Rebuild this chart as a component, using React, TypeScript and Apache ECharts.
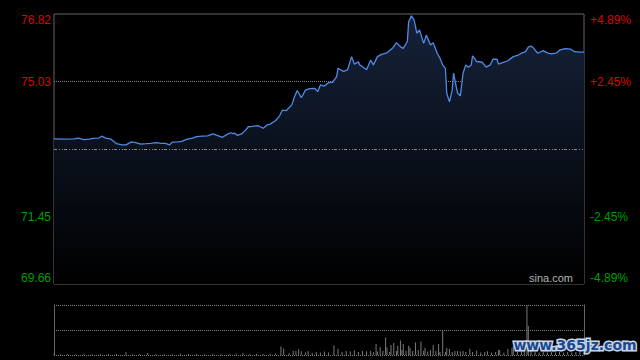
import React, { useEffect, useRef } from 'react';
import * as echarts from 'echarts';

const prevClose = 73.24;

// Intraday minutes (0..390) and prices
const minutes = [
  0, 7, 15, 18, 22, 26, 29, 33, 35, 38,
  42, 44, 46, 50, 53, 57, 60, 64, 68, 71,
  75, 79, 82, 85, 87, 91, 94, 98, 102, 105,
  109, 113, 117, 120, 124, 127, 130, 132, 133, 135,
  138, 141, 143, 146, 150, 154, 157, 159, 163, 166,
  168, 171, 175, 177, 179, 182, 185, 188, 192, 194,
  196, 199, 202, 205, 208, 209, 213, 216, 219, 221,
  224, 225, 227, 230, 233, 235, 238, 241, 245, 249,
  252, 255, 257, 260, 261, 263, 265, 267, 269, 272,
  274, 277, 279, 282, 284, 286, 288, 289, 291, 293,
  294, 296, 297, 299, 301, 303, 305, 307, 308, 311,
  315, 318, 321, 323, 326, 327, 330, 334, 338, 341,
  344, 347, 349, 351, 353, 356, 360, 363, 366, 370,
  372, 376, 380, 383, 387, 390,
];
const prices = [
  73.51, 73.50, 73.51, 73.53, 73.49, 73.50, 73.52, 73.53, 73.58, 73.53,
  73.50, 73.44, 73.38, 73.35, 73.35, 73.43, 73.41, 73.37, 73.38, 73.39,
  73.41, 73.39, 73.39, 73.35, 73.42, 73.43, 73.44, 73.50, 73.53, 73.57,
  73.58, 73.59, 73.64, 73.60, 73.55, 73.62, 73.67, 73.65, 73.66, 73.60,
  73.64, 73.74, 73.83, 73.84, 73.86, 73.79, 73.88, 73.90, 73.99, 74.12,
  74.27, 74.26, 74.41, 74.63, 74.79, 74.60, 74.80, 74.84, 74.85, 74.76,
  74.94, 74.91, 75.00, 75.01, 75.16, 75.38, 75.30, 75.34, 75.69, 75.49,
  75.55, 75.47, 75.42, 75.34, 75.60, 75.47, 75.69, 75.75, 75.79, 75.91,
  76.06, 75.95, 75.91, 76.09, 76.62, 76.77, 76.66, 76.31, 76.40, 76.04,
  76.26, 76.00, 76.06, 75.78, 75.65, 75.47, 75.38, 74.72, 74.49, 74.80,
  75.25, 74.89, 74.72, 74.65, 75.25, 75.47, 75.41, 75.47, 75.71, 75.56,
  75.54, 75.41, 75.47, 75.62, 75.62, 75.49, 75.53, 75.58, 75.69, 75.72,
  75.78, 75.82, 75.94, 75.97, 75.91, 75.78, 75.85, 75.79, 75.76, 75.79,
  75.86, 75.90, 75.89, 75.82, 75.81, 75.81,
];

// Volume bars (minute, relative volume)
const volMinutes = [
  0, 5, 10, 16, 22, 28, 34, 40, 46, 53,
  58, 63, 69, 75, 81, 87, 93, 99, 105, 111,
  117, 123, 129, 134, 139, 144, 149, 154, 159, 163,
  167, 169, 173, 176, 178, 180, 182, 185, 187, 190,
  193, 196, 199, 202, 206, 209, 212, 215, 218, 221,
  224, 227, 230, 233, 235, 237, 238, 240, 242, 244,
  245, 247, 248, 250, 252, 253, 255, 256, 257, 259,
  261, 262, 264, 266, 268, 270, 272, 273, 275, 277,
  279, 281, 283, 284, 286, 288, 289, 291, 293, 295,
  297, 299, 301, 303, 306, 308, 311, 314, 317, 319,
  322, 325, 327, 328, 331, 334, 337, 338, 341, 344,
  346, 348, 349, 351, 354, 357, 360, 363, 366, 369,
  372, 375, 378, 381, 384, 387, 390,
];
const volValues = [
  1.5, 0.8, 1, 0.7, 1.2, 0.8, 1, 0.9, 1.1, 2.7,
  0.8, 1, 2, 0.9, 1, 0.8, 1.2, 0.9, 1, 0.8,
  1.1, 0.9, 1, 1.2, 2, 0.9, 1.1, 1, 1.3, 1.5,
  8.5, 6.5, 2, 4, 4, 5.7, 3.7, 2.5, 4, 2,
  3, 2.5, 3.5, 2.5, 9.5, 6.2, 3, 4, 3.5, 4.5,
  3, 4, 3.5, 4, 3, 11, 3.5, 8, 4, 17.5,
  7.5, 3, 10, 12, 4, 9.3, 14.5, 5, 11, 4,
  9.3, 7, 4, 12.5, 5, 13.5, 4, 7, 3.5, 5,
  10, 4, 11, 3, 24.5, 3, 7, 6, 3, 4,
  4, 3.5, 4, 3, 6.3, 3, 4.3, 2.5, 3, 3.7,
  2.5, 3, 5, 4.7, 2.5, 6, 7.3, 9.3, 3, 3.5,
  4, 50, 29, 5, 3, 2.5, 3, 2.5, 3, 2.5,
  3, 2.5, 3, 2.5, 3, 3.5, 4,
];

// Tick labels (bottom to top)
const priceTicks = ['69.66', '71.45', '', '75.03', '76.82'];
const pctTicks = ['-4.89%', '-2.45%', '', '+2.45%', '+4.89%'];

const RED = '#dd0000';
const GREEN = '#009e00';

export default function App() {
  const ref = useRef<HTMLDivElement>(null);
  useEffect(() => {
    document.body.style.margin = '0';
    document.body.style.background = '#000';
    const chart = echarts.init(ref.current!, null, { renderer: 'svg' });
    const lineData = minutes.map((m, i) => [m, Math.round((prices[i] - prevClose) * 100)]);
    const volData = volMinutes.map((m, i) => [m, volValues[i]]);
    const labelColor = (v: any) => (Number(v) > 0 ? RED : GREEN);
    const option: any = {
      animation: false,
      backgroundColor: '#000',
      grid: [
        { left: 54, right: 56, top: 14, height: 270, show: true, borderColor: '#666', borderWidth: 1, backgroundColor: 'transparent' },
        { left: 54, right: 56, top: 305, height: 50 },
      ],
      xAxis: [
        { type: 'value', gridIndex: 0, min: 0, max: 390, show: false },
        { type: 'value', gridIndex: 1, min: 0, max: 390, show: false },
      ],
      yAxis: [
        {
          type: 'value', gridIndex: 0, min: -358, max: 358, interval: 179, position: 'left',
          axisLine: { show: false }, axisTick: { show: false },
          axisLabel: {
            formatter: (_v: any, i: number) => priceTicks[i] ?? '',
            color: labelColor, fontSize: 12, fontFamily: '"Liberation Sans", Arial, sans-serif', margin: 3,
            verticalAlignMinLabel: 'bottom', verticalAlignMaxLabel: 'top',
          },
          splitLine: { show: true, lineStyle: { color: ['transparent', '#808080', 'transparent', '#808080', 'transparent'], type: [1, 1], width: 1 } },
        },
        {
          type: 'value', gridIndex: 0, min: -358, max: 358, interval: 179, position: 'right',
          axisLine: { show: false }, axisTick: { show: false },
          axisLabel: {
            formatter: (_v: any, i: number) => pctTicks[i] ?? '',
            color: labelColor, fontSize: 12, fontFamily: '"Liberation Sans", Arial, sans-serif', margin: 6,
            verticalAlignMinLabel: 'bottom', verticalAlignMaxLabel: 'top',
          },
          splitLine: { show: false },
        },
        {
          type: 'value', gridIndex: 1, min: 0, max: 50, interval: 25, position: 'left',
          axisLine: { show: true, lineStyle: { color: '#666', width: 1 } }, axisTick: { show: false },
          axisLabel: { show: false },
          splitLine: { show: true, lineStyle: { color: '#808080', type: [1, 1], width: 1 } },
        },
        {
          type: 'value', gridIndex: 1, min: 0, max: 50, interval: 25, position: 'right',
          axisLine: { show: true, lineStyle: { color: '#666', width: 1 } }, axisTick: { show: false },
          axisLabel: { show: false }, splitLine: { show: false },
        },
      ],
      series: [
        {
          type: 'line', xAxisIndex: 0, yAxisIndex: 0, data: lineData,
          showSymbol: false, symbol: 'none',
          lineStyle: { color: '#4f8ae8', width: 1.3 },
          areaStyle: {
            origin: 'start', opacity: 1,
            color: new echarts.graphic.LinearGradient(0, 0, 0, 1, [
              { offset: 0, color: '#152239' },
              { offset: 1, color: '#000000' },
            ]),
          },
          markLine: {
            silent: true, symbol: ['none', 'none'], label: { show: false },
            lineStyle: { color: '#8a8a8a', type: [3, 2, 1, 2, 1, 1], width: 1 },
            data: [{ yAxis: 0 }],
          },
        },
        {
          type: 'bar', xAxisIndex: 1, yAxisIndex: 2, data: volData,
          barWidth: 1, itemStyle: { color: '#7a7a7a' },
        },
      ],
      graphic: [
        {
          type: 'text', x: 573, y: 278, silent: true, z: 100,
          style: { text: 'sina.com', fill: '#b4b4b4', font: '11px "Liberation Sans", Arial, sans-serif', textAlign: 'right', textVerticalAlign: 'middle' },
        },
        {
          type: 'text', x: 575, y: 345, silent: true, z: 100,
          style: {
            text: 'www.365jz.com', fill: '#1a4890', stroke: '#c9d5e6', lineWidth: 3,
            font: 'bold 14px "DejaVu Sans", sans-serif', textAlign: 'center', textVerticalAlign: 'middle',
          },
        },
      ],
    };
    chart.setOption(option);
    return () => chart.dispose();
  }, []);
  return <div ref={ref} style={{ width: 640, height: 360, background: '#000' }} />;
}
